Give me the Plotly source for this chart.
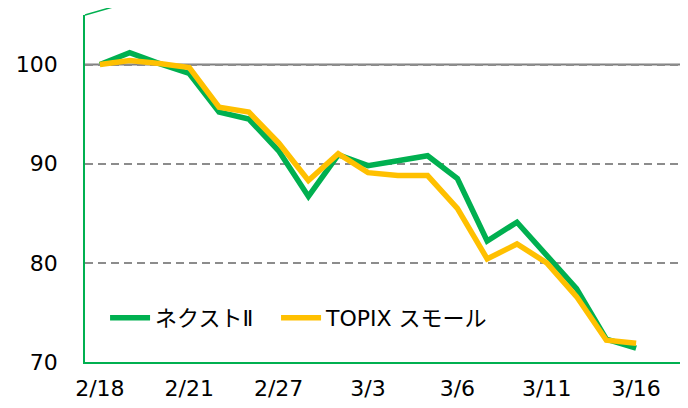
import plotly.graph_objects as go

dates = ["2/18", "2/19", "2/20", "2/21", "2/25", "2/26", "2/27", "2/28", "3/2", "3/3",
         "3/4", "3/5", "3/6", "3/9", "3/10", "3/11", "3/12", "3/13", "3/16"]
next2 = [100.0, 101.2, 100.1, 99.1, 95.2, 94.5, 91.3, 86.7, 90.9, 89.8,
         90.3, 90.8, 88.5, 82.2, 84.1, 80.8, 77.4, 72.3, 71.4]
topix_small = [100.0, 100.4, 100.1, 99.7, 95.7, 95.2, 92.1, 88.3, 91.0, 89.1,
               88.8, 88.8, 85.5, 80.4, 81.9, 80.0, 76.6, 72.2, 71.9]
tick_labels = ["2/18", "2/21", "2/27", "3/3", "3/6", "3/11", "3/16"]
y_ticks = [70, 80, 90, 100]
series_names = ["ネクストⅡ", "TOPIX スモール"]

GREEN = "#00B050"
YELLOW = "#FFC000"
FONT = "DejaVu Sans, Noto Sans CJK JP, sans-serif"

fig = go.Figure()
fig.add_trace(go.Scatter(x=dates, y=next2, mode="lines", name=series_names[0],
                         line=dict(color=GREEN, width=5.5), legend="legend"))
fig.add_trace(go.Scatter(x=dates, y=topix_small, mode="lines", name=series_names[1],
                         line=dict(color=YELLOW, width=5.5), legend="legend2"))

# solid line at 100
fig.add_shape(type="line", xref="paper", yref="y", x0=0, x1=1, y0=100, y1=100,
              line=dict(color="#808080", width=2), layer="below")
# decorative diagonal at top of the y axis
fig.add_shape(type="line", xref="paper", yref="paper", x0=0, y0=1, x1=0.087, y1=1.043,
              line=dict(color=GREEN, width=1.5))

legend_common = dict(orientation="h", y=0.127, xanchor="left", yanchor="middle",
                     bgcolor="rgba(0,0,0,0)", font=dict(size=22), itemwidth=40)

fig.update_layout(
    width=680, height=400,
    margin=dict(l=77, r=6, t=7, b=46, autoexpand=False),
    paper_bgcolor="white", plot_bgcolor="white",
    font=dict(family=FONT, size=22, color="black"),
    showlegend=True,
    legend=dict(x=0.0336, **legend_common),
    legend2=dict(x=0.32, **legend_common),
    xaxis=dict(type="category", categoryorder="array", categoryarray=dates,
               range=[-0.5, 19.54], tickmode="array", tickvals=tick_labels,
               ticktext=tick_labels, showgrid=False, zeroline=False,
               showline=True, linecolor=GREEN, linewidth=2, ticks="",
               tickfont=dict(size=22), ticklabelstandoff=6, automargin=False),
    yaxis=dict(range=[70, 105], tickmode="array", tickvals=y_ticks,
               showgrid=True, gridcolor="#8c8c8c", gridwidth=2, griddash="8px,5px",
               zeroline=False, showline=True, linecolor=GREEN, linewidth=1.5,
               ticks="", tickfont=dict(size=22), ticklabelstandoff=21, automargin=False),
)

fig.write_html("out.html")
